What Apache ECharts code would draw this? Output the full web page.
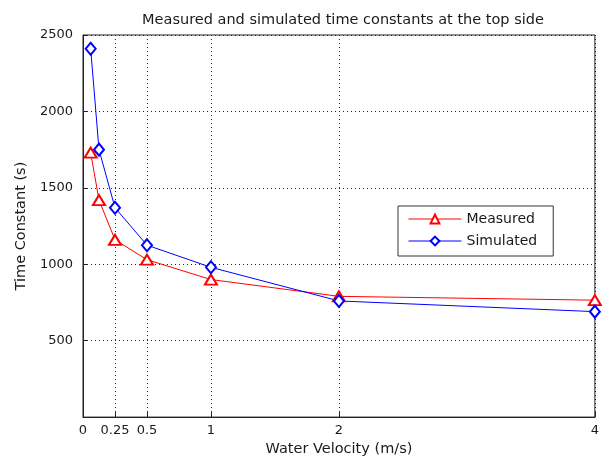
<!DOCTYPE html>
<html><head><meta charset="utf-8">
<script src="https://cdn.jsdelivr.net/npm/echarts@6/dist/echarts.min.js"></script>
<style>html,body{margin:0;padding:0;background:#fff;overflow:hidden}#c{width:602px;height:462px}</style>
</head><body><div id="c"></div>
<script>
const velocity = [0.06, 0.125, 0.25, 0.5, 1, 2, 4];
const measured = [1730, 1420, 1160, 1030, 900, 790, 765];
const simulated = [2410, 1750, 1370, 1125, 980, 760, 690];
const xTicks = [0, 0.25, 0.5, 1, 2, 4];

const font = '"DejaVu Sans", Verdana, sans-serif';
const txt = '#1a1a1a';
const chart = echarts.init(document.getElementById('c'));
chart.setOption({
  animation: false,
  backgroundColor: '#fff',
  title: {
    text: 'Measured and simulated time constants at the top side',
    left: 338, top: 8, textAlign: 'center',
    textStyle: {fontSize: 14.5, fontWeight: 'normal', color: txt, fontFamily: font}
  },
  legend: {
    left: 398, top: 206, orient: 'vertical',
    backgroundColor: '#fff', borderColor: '#333', borderWidth: 1,
    padding: [6, 16, 8, 10], itemGap: 8, itemWidth: 53, itemHeight: 11,
    lineStyle: {width: 1},
    itemStyle: {borderWidth: 1},
    textStyle: {fontSize: 14, color: txt, fontFamily: font},
    data: ['Measured', 'Simulated']
  },
  grid: {left: 83, top: 35, right: 4, bottom: 42, show: true, borderColor: '#222', borderWidth: 1, containLabel: false},
  xAxis: {
    type: 'value', min: 0, max: 4,
    name: 'Water Velocity (m/s)', nameLocation: 'middle', nameGap: 23,
    nameTextStyle: {fontSize: 14.5, color: txt, fontFamily: font},
    axisLine: {show: true, lineStyle: {color: '#222'}},
    axisTick: {show: true, inside: true, length: 5, customValues: xTicks, lineStyle: {color: '#222'}},
    axisLabel: {customValues: xTicks, fontSize: 13, color: txt, fontFamily: font, margin: 7,
      formatter: v => String(v)},
    splitLine: {show: true, lineStyle: {color: '#222', type: [1, 3], width: 1}}
  },
  yAxis: {
    type: 'value', min: 0, max: 2500, interval: 500,
    name: 'Time Constant (s)', nameLocation: 'middle', nameGap: 53,
    nameTextStyle: {fontSize: 14.5, color: txt, fontFamily: font},
    axisLine: {show: true, lineStyle: {color: '#222'}},
    axisTick: {show: true, inside: true, length: 5, lineStyle: {color: '#222'}},
    axisLabel: {fontSize: 13, color: txt, fontFamily: font, margin: 10,
      formatter: v => (v === 0 ? '' : String(v))},
    splitLine: {show: true, lineStyle: {color: '#222', type: [1, 3], width: 1}}
  },
  series: [
    {
      name: 'Measured', type: 'line',
      data: velocity.map((x, i) => [x, measured[i]]),
      symbol: 'emptyTriangle', symbolSize: [12, 10],
      lineStyle: {color: '#ff0000', width: 1},
      itemStyle: {color: '#ff0000', borderWidth: 1}
    },
    {
      name: 'Simulated', type: 'line',
      data: velocity.map((x, i) => [x, simulated[i]]),
      symbol: 'emptyDiamond', symbolSize: [10, 12],
      lineStyle: {color: '#0000ff', width: 1},
      itemStyle: {color: '#0000ff', borderWidth: 1}
    }
  ]
});
</script></body></html>
